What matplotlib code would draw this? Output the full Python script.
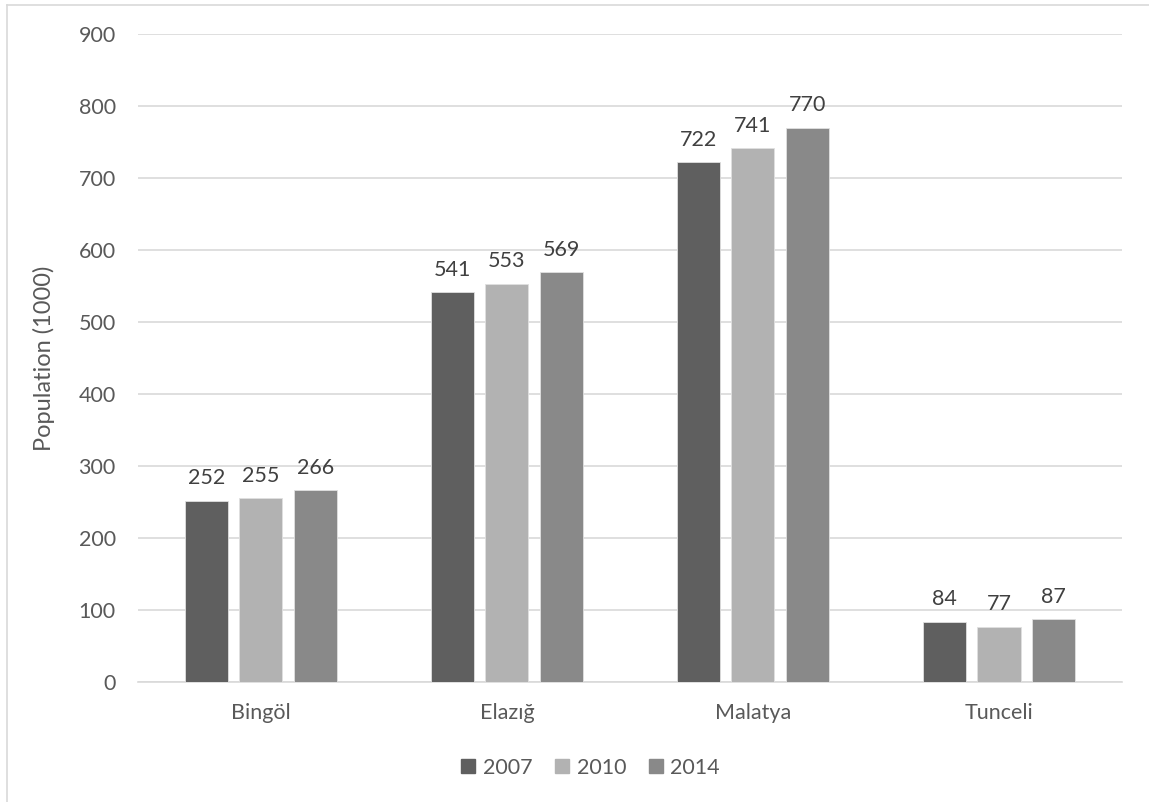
import numpy as np
import matplotlib.pyplot as plt
from matplotlib.lines import Line2D

plt.rcParams['font.family'] = ['Lato', 'DejaVu Sans']

# provinces and population in thousands
provinces = ['Bingöl', 'Elazığ', 'Malatya', 'Tunceli']
years = ['2007', '2010', '2014']
pop_2007 = [252, 541, 722, 84]
pop_2010 = [255, 553, 741, 77]
pop_2014 = [266, 569, 770, 87]
colors = ['#5f5f5f', '#b2b2b2', '#898989']

fig = plt.figure(figsize=(11.49, 8.02), dpi=100)
ax = fig.add_axes([0.120, 0.1496, 0.8565, 0.808])

x = np.arange(len(provinces))
step = 0.222
width = 0.175
for i, (vals, yr) in enumerate(zip([pop_2007, pop_2010, pop_2014], years)):
    bars = ax.bar(x + (i - 1) * step, vals, width, color=colors[i],
                  edgecolor='#e0e0e0', linewidth=0.6, label=yr, zorder=3)
    for b, v in zip(bars, vals):
        ax.annotate(str(v), (b.get_x() + b.get_width() / 2, v),
                    xytext=(0, 9), textcoords='offset points',
                    ha='center', va='bottom', fontsize=15.5, color='#404040')

ax.set_xlim(-0.5, 3.5)
ax.set_ylim(0, 900)
ax.set_yticks(range(0, 901, 100))
ax.set_xticks(x)
ax.set_xticklabels(provinces)
ax.grid(axis='y', color='#d9d9d9', linewidth=1.2, zorder=0)
for s in ['top', 'right', 'left']:
    ax.spines[s].set_visible(False)
ax.spines['bottom'].set_color('#d9d9d9')
ax.spines['bottom'].set_linewidth(1.2)
ax.tick_params(axis='both', length=0, labelsize=15.5, labelcolor='#595959')
ax.tick_params(axis='y', pad=16)
ax.tick_params(axis='x', pad=15)
ax.set_ylabel('Population (1000)', fontsize=17, color='#595959', labelpad=17)

handles = [plt.Rectangle((0, 0), 1, 1, color=c) for c in colors]
fig.legend(handles, years, loc='center', bbox_to_anchor=(0.514, 0.043),
           ncol=3, frameon=False, fontsize=15.5, labelcolor='#595959',
           handlelength=0.65, handleheight=0.65, handletextpad=0.35,
           columnspacing=1.05)

# chart frame (left and top edges)
fig.add_artist(Line2D([0.0057, 0.0057], [0, 0.994], color='#d9d9d9', lw=1.2))
fig.add_artist(Line2D([0.0057, 1], [0.994, 0.994], color='#d9d9d9', lw=1.2))

fig.savefig('out.png', dpi=100)
